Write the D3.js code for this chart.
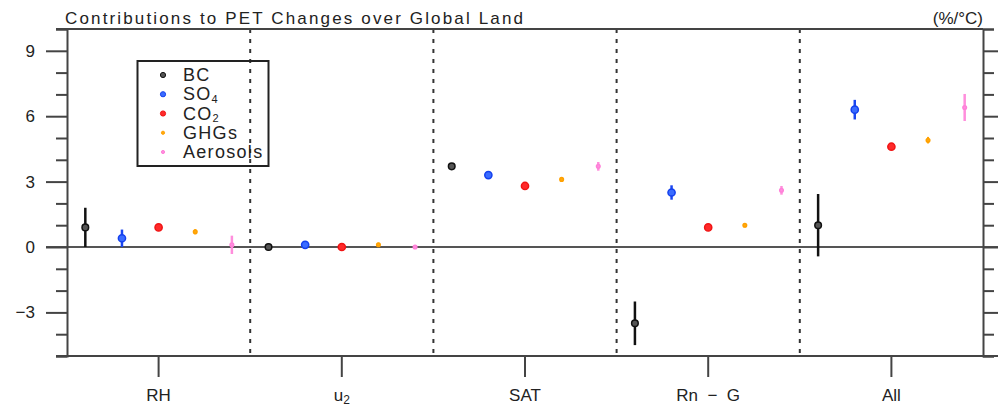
<!DOCTYPE html>
<html>
<head>
<meta charset="utf-8">
<script src="https://cdn.jsdelivr.net/npm/d3@7"></script>
<style>
  body { margin: 0; background: #fff; }
  text { font-family: "Liberation Sans", Arial, sans-serif; fill: #222; }
</style>
</head>
<body>
<svg id="chart" width="998" height="406"></svg>
<script>
const CATEGORIES = ['RH', 'u2', 'SAT', 'Rn  −  G', 'All'];
const SERIES = ['BC', 'SO4', 'CO2', 'GHGs', 'Aerosols'];
const BC = [0.9, 0.0, 3.7, -3.5, 1.0];
const BC_ERR = [0.9, 0.15, 0.15, 1.0, 1.43];
const SO4 = [0.4, 0.1, 3.3, 2.5, 6.3];
const SO4_ERR = [0.4, 0.05, 0.05, 0.33, 0.45];
const CO2 = [0.9, 0.0, 2.8, 0.9, 4.6];
const CO2_ERR = [0.05, 0.05, 0.05, 0.05, 0.15];
const GHGS = [0.7, 0.1, 3.1, 1.0, 4.9];
const GHGS_ERR = [0.12, 0.1, 0.1, 0.1, 0.15];
const AEROSOLS = [0.1, 0.0, 3.7, 2.6, 6.4];
const AEROSOLS_ERR = [0.42, 0.08, 0.2, 0.2, 0.62];
const Y_TICKS = d3.range(-5, 11);

const styles = {
  BC: { fill: '#555', stroke: '#111', r: 3.3, bar: '#111', bw: 2.5 },
  SO4: { fill: '#3a6cff', stroke: '#1440ee', r: 3.6, bar: '#1a46f0', bw: 2.5 },
  CO2: { fill: '#ff2a2a', stroke: '#f01414', r: 3.6, bar: '#ff2020', bw: 2 },
  GHGs: { fill: '#ffaa10', stroke: '#ffa000', r: 1.8, bar: '#ffa500', bw: 2 },
  Aerosols: { fill: '#ff8ee0', stroke: '#ff80d8', r: 1.8, bar: '#ff8edc', bw: 2.5 },
};

const values = { BC, SO4, CO2, GHGs: GHGS, Aerosols: AEROSOLS };
const errors = { BC: BC_ERR, SO4: SO4_ERR, CO2: CO2_ERR, GHGs: GHGS_ERR, Aerosols: AEROSOLS_ERR };

const plotLeft = 67, plotRight = 983, plotTop = 29, plotBottom = 356;
const svg = d3.select('#chart');

const x = d3.scaleLinear().domain([0, CATEGORIES.length]).range([plotLeft, plotRight]);
const y = d3.scaleLinear().domain([-5, 10]).range([plotBottom, plotTop]);
const offset = d3.scalePoint().domain(SERIES).range([-0.4, 0.4]);

const axisColor = '#444';

// vertical dashed separators
svg.append('g').selectAll('line')
  .data(d3.range(1, CATEGORIES.length))
  .join('line')
  .attr('x1', (d) => x(d)).attr('x2', (d) => x(d))
  .attr('y1', plotTop).attr('y2', plotBottom)
  .attr('stroke', '#333').attr('stroke-width', 2)
  .attr('stroke-dasharray', '4,6');

// zero line
svg.append('line')
  .attr('x1', 46).attr('x2', 998)
  .attr('y1', y(0)).attr('y2', y(0))
  .attr('stroke', '#555').attr('stroke-width', 2);

// frame: top and bottom
svg.append('line').attr('x1', 56).attr('x2', plotRight).attr('y1', plotTop).attr('y2', plotTop)
  .attr('stroke', axisColor).attr('stroke-width', 2);
svg.append('line').attr('x1', 56).attr('x2', 998).attr('y1', plotBottom).attr('y2', plotBottom)
  .attr('stroke', axisColor).attr('stroke-width', 2);

function styleYAxis(g, side) {
  g.select('.domain').attr('stroke', axisColor).attr('stroke-width', 2);
  g.selectAll('.tick line')
    .attr('stroke', axisColor).attr('stroke-width', 2)
    .attr('x2', (d) => side * (d % 3 === 0 ? 21 : 11));
}

const yLeft = svg.append('g')
  .attr('transform', `translate(${plotLeft},0)`)
  .call(d3.axisLeft(y).tickValues(Y_TICKS).tickSizeOuter(0).tickSize(11)
    .tickPadding(11)
    .tickFormat((d) => (d % 3 === 0 ? d3.format('d')(d) : '')));
styleYAxis(yLeft, -1);
yLeft.selectAll('.tick text')
  .attr('x', -32)
  .style('font-size', '17px').style('font-family', '"Liberation Sans", Arial, sans-serif')
  .attr('fill', '#222');

const yRight = svg.append('g')
  .attr('transform', `translate(${plotRight},0)`)
  .call(d3.axisRight(y).tickValues(Y_TICKS).tickSizeOuter(0).tickSize(11).tickFormat(''));
styleYAxis(yRight, 1);

// bottom category ticks
svg.append('g').selectAll('line')
  .data(CATEGORIES)
  .join('line')
  .attr('x1', (d, i) => x(i + 0.5)).attr('x2', (d, i) => x(i + 0.5))
  .attr('y1', plotBottom).attr('y2', plotBottom + 21)
  .attr('stroke', axisColor).attr('stroke-width', 2);

const xLabels = svg.append('g').selectAll('text')
  .data(CATEGORIES)
  .join('text')
  .attr('x', (d, i) => x(i + 0.5))
  .attr('y', 401)
  .attr('text-anchor', 'middle')
  .style('white-space', 'pre')
  .style('font-size', '17px');
xLabels.each(function (d) {
  const t = d3.select(this);
  if (d === 'u2') {
    t.append('tspan').text('u');
    t.append('tspan').text('2').attr('dy', 3).style('font-size', '12px');
  } else {
    t.text(d);
  }
});

// error bars and points
SERIES.forEach((s) => {
  const st = styles[s];
  const g = svg.append('g').attr('class', `series-${s}`);
  const pts = values[s].map((v, i) => ({ i, v, e: errors[s][i] }));
  g.selectAll('line')
    .data(pts)
    .join('line')
    .attr('x1', (d) => x(d.i + 0.5 + offset(s)))
    .attr('x2', (d) => x(d.i + 0.5 + offset(s)))
    .attr('y1', (d) => y(d.v - d.e))
    .attr('y2', (d) => y(d.v + d.e))
    .attr('stroke', st.bar).attr('stroke-width', st.bw);
  g.selectAll('circle')
    .data(pts)
    .join('circle')
    .attr('cx', (d) => x(d.i + 0.5 + offset(s)))
    .attr('cy', (d) => y(d.v))
    .attr('r', st.r)
    .attr('fill', st.fill)
    .attr('stroke', st.stroke).attr('stroke-width', 1.5);
});

// legend
const legend = svg.append('g');
legend.append('rect')
  .attr('x', 137.5).attr('y', 61)
  .attr('width', 131).attr('height', 105)
  .attr('fill', 'none').attr('stroke', '#222').attr('stroke-width', 2);
const rowY = d3.scalePoint().domain(SERIES).range([75, 152]);
SERIES.forEach((s) => {
  const st = styles[s];
  legend.append('circle')
    .attr('cx', 163).attr('cy', rowY(s))
    .attr('r', s === 'GHGs' || s === 'Aerosols' ? 1.6 : 2.6)
    .attr('fill', st.fill).attr('stroke', st.stroke).attr('stroke-width', 1);
  const t = legend.append('text')
    .attr('x', 183).attr('y', rowY(s) + 6)
    .style('letter-spacing', '1.3px')
    .style('font-size', '18px');
  if (s === 'SO4' || s === 'CO2') {
    t.append('tspan').text(s.slice(0, 2));
    t.append('tspan').text(s.slice(2)).attr('dy', 2.5).style('font-size', '11px');
  } else {
    t.text(s);
  }
});

// titles
svg.append('text')
  .attr('x', 65).attr('y', 24)
  .attr('textLength', 458).attr('lengthAdjust', 'spacing')
  .style('font-size', '17px')
  .text('Contributions to PET Changes over Global Land');
svg.append('text')
  .attr('x', 983).attr('y', 24)
  .attr('text-anchor', 'end')
  .style('font-size', '17px')
  .text('(%/°C)');
</script>
</body>
</html>
